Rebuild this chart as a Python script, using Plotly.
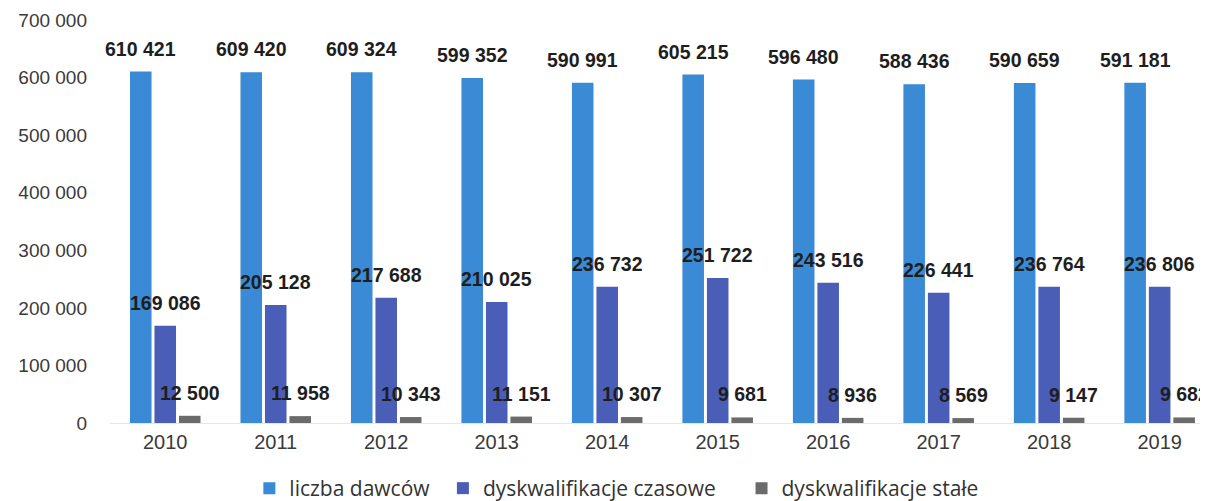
import plotly.graph_objects as go

years = ["2010", "2011", "2012", "2013", "2014", "2015", "2016", "2017", "2018", "2019"]
liczba_dawcow = [610421, 609420, 609324, 599352, 590991, 605215, 596480, 588436, 590659, 591181]
dysk_czasowe = [169086, 205128, 217688, 210025, 236732, 251722, 243516, 226441, 236764, 236806]
dysk_stale = [12500, 11958, 10343, 11151, 10307, 9681, 8936, 8569, 9147, 9682]

series = [
    ("liczba dawców", liczba_dawcow, "#3a8ad5"),
    ("dyskwalifikacje czasowe", dysk_czasowe, "#4a5db7"),
    ("dyskwalifikacje stałe", dysk_stale, "#6b6b6b"),
]
legend_ids = ["legend", "legend2", "legend3"]
legend_x = [0.126, 0.301, 0.571]

def fmt(v):
    return f"{v:,}".replace(",", " ")

fig = go.Figure()
for (name, vals, col), lid in zip(series, legend_ids):
    fig.add_trace(go.Bar(x=years, y=vals, name=name, marker_color=col,
                         marker_line_width=0, legend=lid))

slot = 24.5
for k, (name, vals, col) in enumerate(series):
    for i, v in enumerate(vals):
        fig.add_annotation(x=i, y=v, xref="x", yref="y", text=fmt(v),
                           showarrow=False, xshift=(k - 1) * slot, yshift=23,
                           yanchor="middle",
                           font=dict(family="Liberation Sans, Arial", size=19.5,
                                     color="#1e1e1e", weight="bold"))

leg_common = dict(orientation="h", xanchor="left", y=-0.163, yanchor="middle",
                  font=dict(family="Open Sans", size=21, color="#333"),
                  itemwidth=30, bgcolor="rgba(0,0,0,0)")
fig.update_layout(
    width=1208, height=501,
    margin=dict(l=102, r=0, t=12, b=86),
    paper_bgcolor="white", plot_bgcolor="white",
    barmode="group", bargap=0.335, bargroupgap=0.12,
    separators=", ",
    showlegend=True,
    legend=dict(x=legend_x[0], **leg_common),
    legend2=dict(x=legend_x[1], **leg_common),
    legend3=dict(x=legend_x[2], **leg_common),
    font=dict(family="Liberation Sans, Arial", color="#3a3a3a"),
)
fig.update_yaxes(range=[0, 700000], dtick=100000, tickformat=",d", showgrid=False,
                 zeroline=False, showline=False, ticks="", ticklabelstandoff=22,
                 tickfont=dict(size=19, color="#3a3a3a"))
fig.update_xaxes(range=[-0.5, 9.51], showgrid=False, showline=True, linecolor="#e6e6e6",
                 linewidth=1, ticks="", ticklabelstandoff=1,
                 tickfont=dict(size=20, color="#3a3a3a"))

fig.write_html("out.html")
